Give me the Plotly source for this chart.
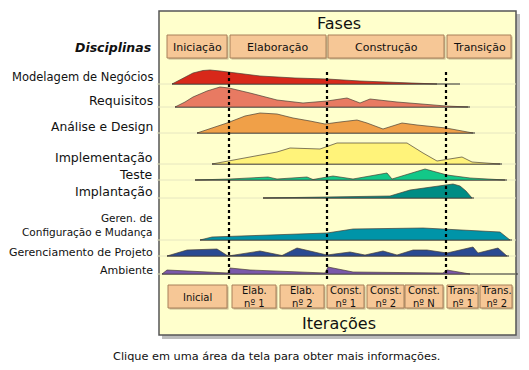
import plotly.graph_objects as go

# ---------------- data ----------------
phases = ["Iniciação", "Elaboração", "Construção", "Transição"]
phase_start = [167, 230, 328, 447]
phase_end = [227, 326, 444, 511]

iterations = ["Inicial", "Elab.<br>nº 1", "Elab.<br>nº 2", "Const.<br>nº 1",
              "Const.<br>nº 2", "Const.<br>nº N", "Trans.<br>nº 1", "Trans.<br>nº 2"]
iter_start = [168, 232, 280, 327, 367, 405, 447, 480]
iter_end = [227, 276, 324, 364, 404, 443, 478, 512]

milestones = [229, 327, 446]

disciplines = ["Modelagem de Negócios", "Requisitos", "Análise e Design",
               "Implementação", "Teste", "Implantação",
               "Geren. de<br>Configuração e Mudança", "Gerenciamento de Projeto",
               "Ambiente"]

# effort profiles: time positions and effort heights
mod_t = [172, 183, 193, 203, 210, 220, 229, 260, 295, 327, 360, 400, 430, 437]
mod_h = [0, 6, 11, 13.5, 14, 13, 12, 8, 6, 5, 3, 1.5, 0.5, 0]

req_t = [175, 185, 193, 207, 220, 229, 250, 277, 303, 327, 347, 360, 370, 397, 446, 468]
req_h = [0, 5, 10, 16, 20, 19, 14, 7, 4, 6, 9, 4, 8, 5, 1, 0]

ana_t = [197, 212, 227, 245, 260, 277, 293, 310, 325, 340, 357, 367, 383, 402, 417, 446, 473]
ana_h = [0, 5, 10, 17, 20, 19, 15, 12, 9, 11, 13, 10, 4, 10, 8, 5, 0]

imp_t = [212, 245, 277, 290, 320, 337, 407, 423, 437, 462, 472, 500]
imp_h = [0, 6, 12, 16, 15, 21, 21, 11, 3, 7, 2, 0]

tes_t = [195, 230, 268, 277, 307, 313, 333, 353, 387, 392, 425, 447, 470, 505]
tes_h = [0, 1, 3, 1, 3, 0.5, 4, 1, 7, 1, 11, 5, 2, 0]

dep_t = [263, 330, 390, 410, 443, 453, 460, 466, 472]
dep_h = [0, 1, 2, 8, 13, 14, 12, 7, 0]

cfg_t = [200, 212, 270, 327, 353, 423, 500, 510]
cfg_h = [0, 3, 5, 7, 11, 12, 8, 0]

prj_t = [167, 187, 217, 228, 260, 282, 297, 327, 350, 365, 383, 397, 413, 427, 447, 473, 478, 498, 507]
prj_h = [0, 6, 7, 0, 5, 0.5, 8, 1, 4, 1, 5, 1, 6, 6, 3, 9, 3, 8, 0]

amb_t = [162, 167, 228, 230, 250, 325, 328, 353, 443, 447, 470]
amb_h = [0, 4, 1, 6, 4, 1, 7, 2, 1, 4, 0]

profiles_t = [mod_t, req_t, ana_t, imp_t, tes_t, dep_t, cfg_t, prj_t, amb_t]
profiles_h = [mod_h, req_h, ana_h, imp_h, tes_h, dep_h, cfg_h, prj_h, amb_h]

# ---------------- layout / style ----------------
baselines = [84, 107, 133, 164, 180, 198, 240, 256, 274]
label_y = [77, 100, 127, 157, 174, 191, 225, 252, 270]
label_size = [11.5, 12.5, 12.3, 12.5, 12.5, 12.5, 10.5, 11, 11]
colors = ["#D8281A", "#E87A62", "#F0A048", "#FFF37A", "#12C888",
          "#008C84", "#0094A8", "#2A4A92", "#7A58AA"]
line_end = [460, 470, 475, 502, 507, 474, 512, 509, 518]

W, H = 529, 370
FONT = "DejaVu Sans"
fig = go.Figure()

shapes = []
# panel shadow and panel
shapes.append(dict(type="rect", x0=162, y0=14, x1=520, y1=339, fillcolor="#A0A0A0",
                   line=dict(width=0), layer="below", opacity=0.7))
shapes.append(dict(type="rect", x0=159, y0=11, x1=516, y1=335, fillcolor="#FFFFCC",
                   line=dict(color="#555555", width=1.5), layer="below"))

# faint row lines
for b in baselines:
    shapes.append(dict(type="line", x0=157, x1=516, y0=b, y1=b,
                       line=dict(color="#E6E6C0", width=1), layer="below"))

def box(x0, x1, y0, y1):
    shapes.append(dict(type="rect", x0=x0 + 1.5, x1=x1 + 1.5, y0=y0 + 1.5, y1=y1 + 1.5,
                       fillcolor="#C8B890", line=dict(width=0), layer="below"))
    shapes.append(dict(type="rect", x0=x0, x1=x1, y0=y0, y1=y1,
                       fillcolor="#F6C796", line=dict(color="#A8805A", width=1), layer="below"))

annotations = []
for name, a, b in zip(phases, phase_start, phase_end):
    box(a, b, 35, 58)
    annotations.append(dict(x=(a + b) / 2, y=47, text=name, showarrow=False,
                            font=dict(family=FONT, size=11, color="#111111")))

for name, a, b in zip(iterations, iter_start, iter_end):
    box(a, b, 285, 308)
    annotations.append(dict(x=(a + b) / 2, y=297, text=name, showarrow=False,
                            font=dict(family=FONT, size=10, color="#111111")))

fig.update_layout(shapes=shapes)

# baseline lines + humps
for t, h, b, c, e in zip(profiles_t, profiles_h, baselines, colors, line_end):
    fig.add_trace(go.Scatter(x=[t[0], e], y=[b, b], mode="lines",
                             line=dict(color="#333333", width=1), hoverinfo="skip"))
    xs = list(t) + [t[0]]
    ys = [b - v for v in h] + [b]
    fig.add_trace(go.Scatter(x=xs, y=ys, mode="lines", fill="toself", fillcolor=c,
                             line=dict(color="rgba(70,60,50,0.85)", width=0.8),
                             hoverinfo="skip"))

# milestone dashed lines
for m in milestones:
    fig.add_trace(go.Scatter(x=[m, m], y=[72, 281], mode="lines",
                             line=dict(color="#000000", width=2.2, dash="dot"),
                             hoverinfo="skip"))

# texts
annotations.append(dict(x=339, y=23, text="Fases", showarrow=False,
                        font=dict(family=FONT, size=16, color="#111111")))
annotations.append(dict(x=339, y=323, text="Iterações", showarrow=False,
                        font=dict(family=FONT, size=16, color="#111111")))
annotations.append(dict(x=153, y=47, text="<b><i>Disciplinas</i></b>", showarrow=False,
                        xanchor="right", font=dict(family=FONT, size=12.5, color="#111111")))
for name, y, s in zip(disciplines, label_y, label_size):
    annotations.append(dict(x=155, y=y, text=name, showarrow=False, xanchor="right",
                            align="right",
                            font=dict(family=FONT, size=s, color="#111111")))
annotations.append(dict(x=276, y=356, text="Clique em uma área da tela para obter mais informações.",
                        showarrow=False, font=dict(family=FONT, size=11.3, color="#111111")))

fig.update_layout(
    width=W, height=H, margin=dict(l=0, r=0, t=0, b=0),
    paper_bgcolor="white", plot_bgcolor="white",
    showlegend=False, annotations=annotations,
    xaxis=dict(range=[0, W], visible=False, fixedrange=True),
    yaxis=dict(range=[H, 0], visible=False, fixedrange=True),
)

fig.write_html("out.html", config={"displayModeBar": False},
               post_script="document.body.style.margin='0';document.body.style.overflow='hidden';")
